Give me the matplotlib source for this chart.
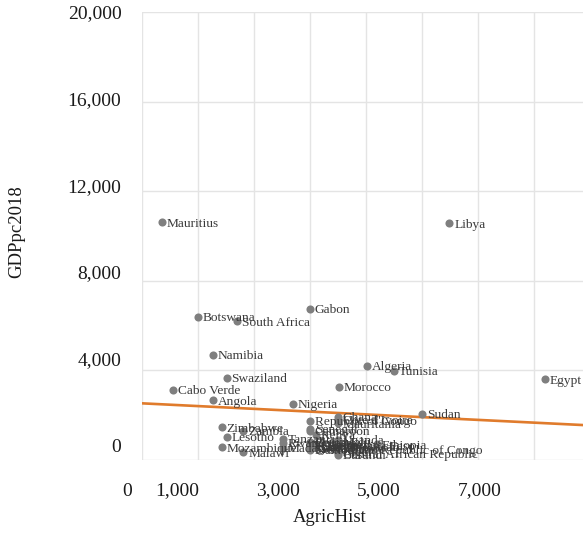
import matplotlib
matplotlib.use("Agg")
import matplotlib.pyplot as plt

plt.rcParams['font.family'] = ['Liberation Serif', 'DejaVu Serif']

# data (AgricHist, GDPpc2018)
countries = ["Mauritius", "Libya", "Botswana", "South Africa", "Gabon", "Namibia",
             "Algeria", "Tunisia", "Swaziland", "Egypt", "Morocco", "Cabo Verde",
             "Angola", "Nigeria", "Sudan", "Republic of Congo", "Ghana",
             "Cote d'Ivoire", "Mauritania", "Zimbabwe", "Senegal", "Cameroon",
             "Zambia", "Kenya", "Lesotho", "Tanzania", "Rwanda", "Madagascar",
             "Mozambique", "Malawi", "Uganda", "Benin", "Guinea", "Togo",
             "Sierra Leone", "Gambia", "Liberia", "Guinea-Bissau", "Mali",
             "Chad", "Burkina Faso", "Eritrea", "Niger", "Ethiopia",
             "Democratic Republic of Congo", "Central African Republic", "Burundi"]
agric_hist = [360, 5490, 1000, 1700, 3000, 1260,
              4010, 4500, 1510, 7200, 3520, 550,
              1260, 2700, 5000, 3000, 3500,
              3500, 3500, 1420, 3000, 3000,
              1810, 3100, 1510, 2520, 2520, 2520,
              1420, 1810, 3500, 3000, 3000, 3000,
              3000, 3100, 3100, 3100, 3500,
              3500, 3500, 3500, 3500, 4200,
              3000, 3500, 3500]
gdp_pc = [10620, 10570, 6380, 6200, 6740, 4700,
          4200, 3990, 3670, 3600, 3260, 3140,
          2660, 2500, 2050, 1760, 1930,
          1800, 1640, 1460, 1380, 1300,
          1300, 1120, 1040, 940, 780, 540,
          570, 340, 900, 820, 760, 610,
          500, 700, 650, 600, 800,
          700, 660, 560, 390, 700,
          450, 300, 220]

# linear trend line end points
trend_x = [0, 7875]
trend_y = [2530, 1560]

x_ticks = [0, 1000, 2000, 3000, 4000, 5000, 6000, 7000]
x_tick_labels = [0, 1000, 3000, 5000, 7000]
y_ticks = [0, 4000, 8000, 12000, 16000, 20000]

fig = plt.figure(figsize=(5.83, 5.40), dpi=100)
ax = fig.add_axes([142 / 583, 80 / 540, 441 / 583, 448 / 540])

ax.plot(trend_x, trend_y, color="#E07B2C", lw=1.9, zorder=2)
ax.scatter(agric_hist, gdp_pc, s=34, color="#7F7F7F", zorder=3, linewidths=0)
for name, x, y in zip(countries, agric_hist, gdp_pc):
    ax.annotate(name, (x, y), xytext=(3.5, -1), textcoords="offset points",
                fontsize=9.6, color="#3a3a3a", va="center", ha="left", zorder=4)

ax.set_xlim(0, 7875)
ax.set_ylim(0, 20000)
ax.set_xticks(x_ticks)
ax.set_yticks(y_ticks)
ax.tick_params(length=0, labelbottom=False, labelleft=False)
ax.grid(True, color="#E4E4E4", lw=1.0)
ax.set_axisbelow(True)
for sp in ax.spines.values():
    sp.set_visible(False)

# tick labels sit on a slightly tighter scale than the grid in the reference
lab = fig.add_axes([127 / 583, 95 / 540, 403.4 / 583, 433 / 540])
lab.patch.set_visible(False)
lab.set_xlim(0, 8000)
lab.set_ylim(0, 20000)
lab.set_xticks(x_tick_labels)
lab.set_xticklabels(["{:,}".format(v) for v in x_tick_labels])
lab.set_yticks(y_ticks)
lab.set_yticklabels(["{:,}".format(v) for v in y_ticks])
lab.tick_params(length=0, labelsize=14, colors="#1a1a1a")
lab.tick_params(axis="x", pad=27)
lab.tick_params(axis="y", pad=4)
for sp in lab.spines.values():
    sp.set_visible(False)

fig.text(330 / 583, 1 - 518 / 540, "AgricHist", fontsize=13.5, ha="center",
         va="center", color="#1a1a1a")
fig.text(17 / 583, 1 - 232 / 540, "GDPpc2018", fontsize=13.5, ha="center",
         va="center", rotation=90, color="#1a1a1a")

fig.savefig("out.png", dpi=100)
